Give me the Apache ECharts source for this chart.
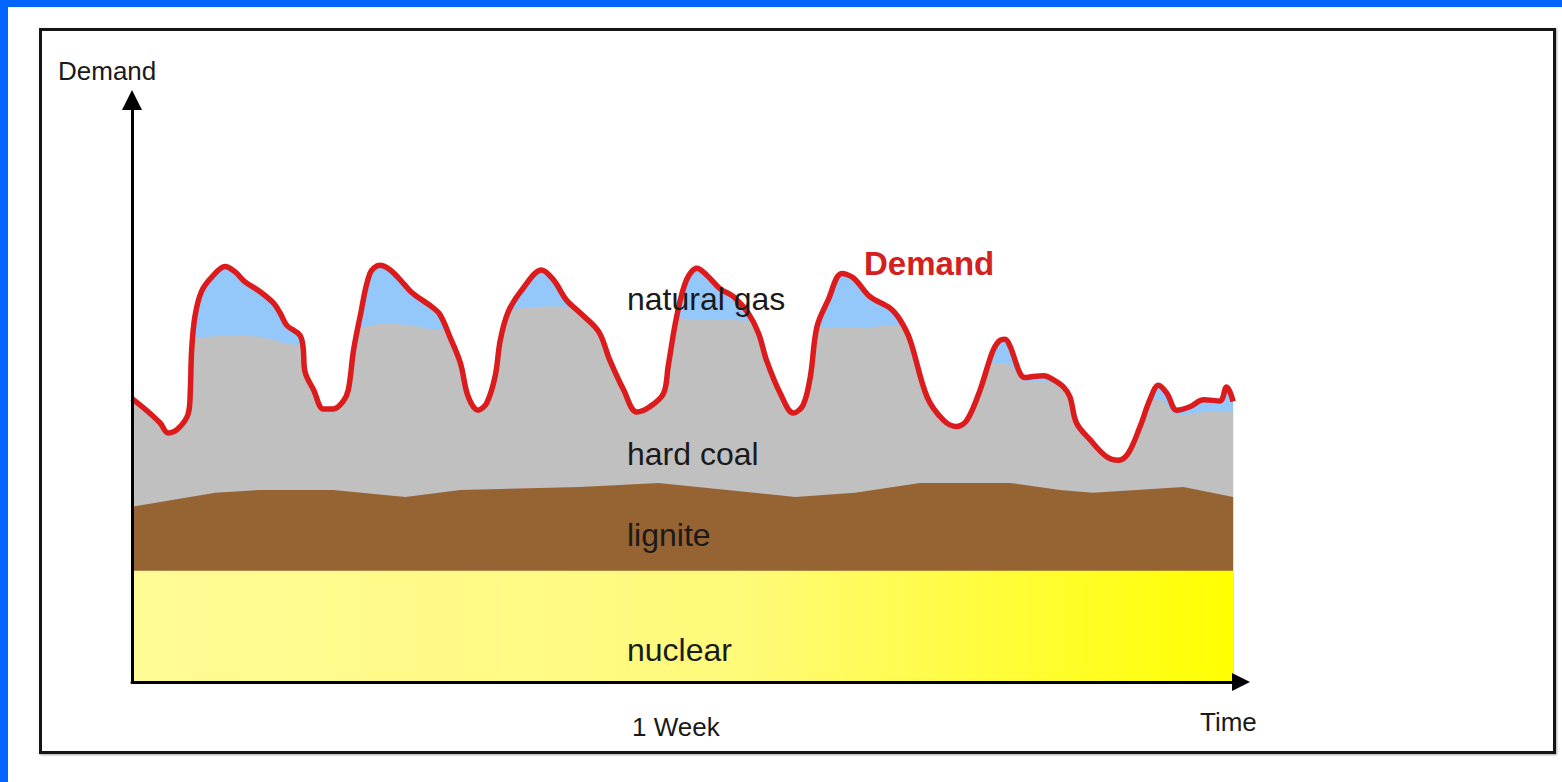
<!DOCTYPE html>
<html>
<head>
<meta charset="utf-8">
<script src="https://cdn.jsdelivr.net/npm/echarts@6/dist/echarts.min.js"></script>
<style>
  html, body { margin: 0; padding: 0; background: #fff; }
  #frame-top { position: absolute; left: 0; top: 0; width: 1562px; height: 7px; background: #0066ff; }
  #frame-left { position: absolute; left: 0; top: 0; width: 8px; height: 782px; background: #0066ff; }
  #box {
    position: absolute; left: 39px; top: 28px; width: 1517px; height: 726px;
    box-sizing: border-box; border: 3px solid #151515;
    box-shadow: 1px 1px 2px rgba(0, 0, 0, 0.35);
  }
  #chart { position: absolute; left: 0; top: 0; width: 1562px; height: 782px; }
</style>
</head>
<body>
<div id="frame-top"></div>
<div id="frame-left"></div>
<div id="box"></div>
<div id="chart"></div>
<script>
// time in hours over one week, power in GW
var demandHours = [0, 2.2, 4.3, 5.5, 7.1, 8.6, 8.9, 9.1, 9.6, 10.6, 12.2, 14.2, 15.7, 17.2, 19.5, 21.6, 22.6, 23.6,
  25.6, 26.1, 26.4, 27.7, 29.2, 30.7, 32.2, 33.0, 33.8, 34.8, 36.3, 37.8, 39.4, 41.4, 42.7, 45.7, 47.0, 48.5,
  50.1, 51.3, 52.8, 54.1, 55.4, 56.2, 57.4, 59.5, 62.5, 64.3, 66.3, 68.4, 71.2, 72.9, 75.0, 77.0, 79.0, 81.1,
  81.8, 83.1, 84.6, 86.2, 87.7, 89.7, 91.8, 94.0, 95.6, 96.8, 98.9, 100.9, 102.4, 103.5, 104.5, 106.2, 108.3,
  110.1, 112.6, 115.7, 117.2, 118.7, 121.3, 123.8, 125.8, 127.4, 129.4, 131.2, 132.2, 133.2, 134.0, 135.5,
  136.3, 137.5, 139.1, 140.6, 142.1, 143.1, 144.1, 146.2, 148.7, 150.5, 152.0, 153.8, 155.3, 156.6, 157.9,
  159.4, 161.4, 163.5, 166.0, 167.0, 167.5, 168.0];
var demandValues = [48.7, 46.7, 44.5, 42.8, 43.6, 46.2, 50.2, 57.0, 62.8, 67.1, 69.6, 71.4, 70.5, 68.8, 67.1, 65.1, 63.4, 61.3,
  59.6, 57.6, 53.3, 50.2, 46.9, 46.9, 48.2, 50.2, 57.0, 62.8, 70.2, 71.6, 70.8, 68.5, 66.9, 64.5, 63.1, 59.3,
  54.8, 49.0, 46.7, 47.9, 52.5, 58.8, 63.6, 67.4, 70.8, 69.1, 65.6, 63.4, 60.2, 55.3, 50.2, 46.4, 47.3, 49.6,
  54.2, 62.8, 69.1, 71.1, 69.9, 67.6, 66.2, 63.4, 59.9, 55.3, 49.6, 46.2, 47.6, 52.5, 61.0, 65.6, 70.2,
  69.4, 66.2, 64.2, 62.2, 58.8, 49.0, 45.0, 43.9, 45.0, 50.2, 56.5, 58.5, 58.9, 57.6, 53.0,
  52.3, 52.5, 52.6, 51.9, 50.7, 49.0, 44.5, 41.6, 38.7, 38.1, 39.3, 43.9, 48.5, 51.0, 49.6,
  46.7, 47.3, 48.5, 48.3, 50.7, 49.9, 48.2];

// upper edge of hard coal output (above it gas covers the rest of demand)
var coalHours = [0, 10.1, 15.0, 19.5, 25.1, 29.5, 34.5, 38.9, 42.9, 46.7, 52.5, 59.2, 65.3, 68.5, 77.0, 83.6, 91.8,
  100.0, 105.5, 112.1, 116.7, 125.0, 131.9, 133.5, 136.0, 139.0, 141.0, 150.0, 156.9, 158.9, 160.4, 163.5, 168.0];
var coalValues = [58.0, 59.1, 59.6, 59.3, 57.9, 59.5, 60.8, 61.6, 61.2, 60.5, 62.5, 64.2, 64.5, 64.2, 63.5, 62.5, 62.2,
  61.5, 61.0, 61.0, 61.3, 57.0, 54.8, 54.8, 51.9, 51.6, 51.3, 48.0, 48.5, 46.2, 45.9, 46.4, 46.4];

// upper edge of lignite (lignite sits on nuclear)
var ligniteHours = [0, 12.7, 19.5, 30.7, 41.7, 50.1, 68.4, 80.3, 101.2, 110.3, 120.2, 134.0, 141.6, 146.6, 160.4, 168.0];
var ligniteValues = [30.1, 32.5, 33.0, 33.0, 31.8, 33.0, 33.5, 34.2, 31.8, 32.5, 34.2, 34.2, 33.0, 32.5, 33.5, 31.8];

var nuclearHours = [0, 168];
var nuclearValues = [19.1, 19.1];

function pairs(xs, ys) {
  return xs.map(function (x, i) { return [x, ys[i]]; });
}

var demand = pairs(demandHours, demandValues);
var FONT = '"Liberation Sans", Arial, Helvetica, sans-serif';

var chart = echarts.init(document.getElementById('chart'), null, { renderer: 'svg' });

function label(text, x, y, size, color, weight) {
  return {
    type: 'text', x: x, y: y, z: 100,
    style: {
      text: text, fill: color || '#1a1a1a', align: 'left', verticalAlign: 'middle',
      font: (weight || 'normal') + ' ' + size + 'px ' + FONT
    }
  };
}

var option = {
  animation: false,
  backgroundColor: 'transparent',
  grid: { left: 132, top: 100, width: 1109, height: 582 },
  xAxis: {
    type: 'value', min: 0, max: 169.2, z: 10,
    axisLine: { show: true, symbol: ['none', 'triangle'], symbolSize: [18, 18], lineStyle: { color: '#000', width: 3 } },
    axisTick: { show: false }, axisLabel: { show: false }, splitLine: { show: false }
  },
  yAxis: {
    type: 'value', min: 0, max: 100, z: 10,
    axisLine: { show: true, symbol: ['none', 'triangle'], symbolSize: [20, 20], lineStyle: { color: '#000', width: 3 } },
    axisTick: { show: false }, axisLabel: { show: false }, splitLine: { show: false }
  },
  series: [
    {
      name: 'natural gas', type: 'line', data: demand, smooth: 0.35, showSymbol: false,
      lineStyle: { width: 0 }, areaStyle: { color: '#94c8fa', opacity: 1 }
    },
    {
      name: 'hard coal', type: 'line', data: pairs(coalHours, coalValues), smooth: 0.3, showSymbol: false,
      lineStyle: { width: 0 }, areaStyle: { color: '#c0c0c0', opacity: 1 }
    },
    {
      // clears everything above the demand curve
      name: 'above demand', type: 'line', data: demand, smooth: 0.35, showSymbol: false,
      lineStyle: { width: 0 }, areaStyle: { color: '#ffffff', opacity: 1, origin: 'end' }
    },
    {
      name: 'lignite', type: 'line', data: pairs(ligniteHours, ligniteValues), showSymbol: false,
      lineStyle: { width: 0 }, areaStyle: { color: '#966333', opacity: 1 }
    },
    {
      name: 'nuclear', type: 'line', data: pairs(nuclearHours, nuclearValues), showSymbol: false,
      lineStyle: { width: 0 },
      areaStyle: {
        opacity: 1,
        color: new echarts.graphic.LinearGradient(0, 0, 1, 0, [
          { offset: 0, color: '#fffb96' },
          { offset: 0.55, color: '#fffa7a' },
          { offset: 1, color: '#ffff00' }
        ])
      }
    },
    {
      name: 'Demand', type: 'line', data: demand, smooth: 0.35, showSymbol: false, z: 5,
      lineStyle: { color: '#dc1c1c', width: 5.5 }
    }
  ],
  graphic: [
    label('Demand', 58, 71, 26),
    label('Time', 1200, 722, 26),
    label('1 Week', 632, 727, 26),
    label('natural gas', 627, 299, 32),
    label('hard coal', 627, 454, 32),
    label('lignite', 627, 535, 32),
    label('nuclear', 627, 650, 32),
    label('Demand', 864, 263, 33, '#d42020', 'bold')
  ]
};

chart.setOption(option);

window.addEventListener('resize', function () {
  chart.resize();
});
</script>
</body>
</html>
